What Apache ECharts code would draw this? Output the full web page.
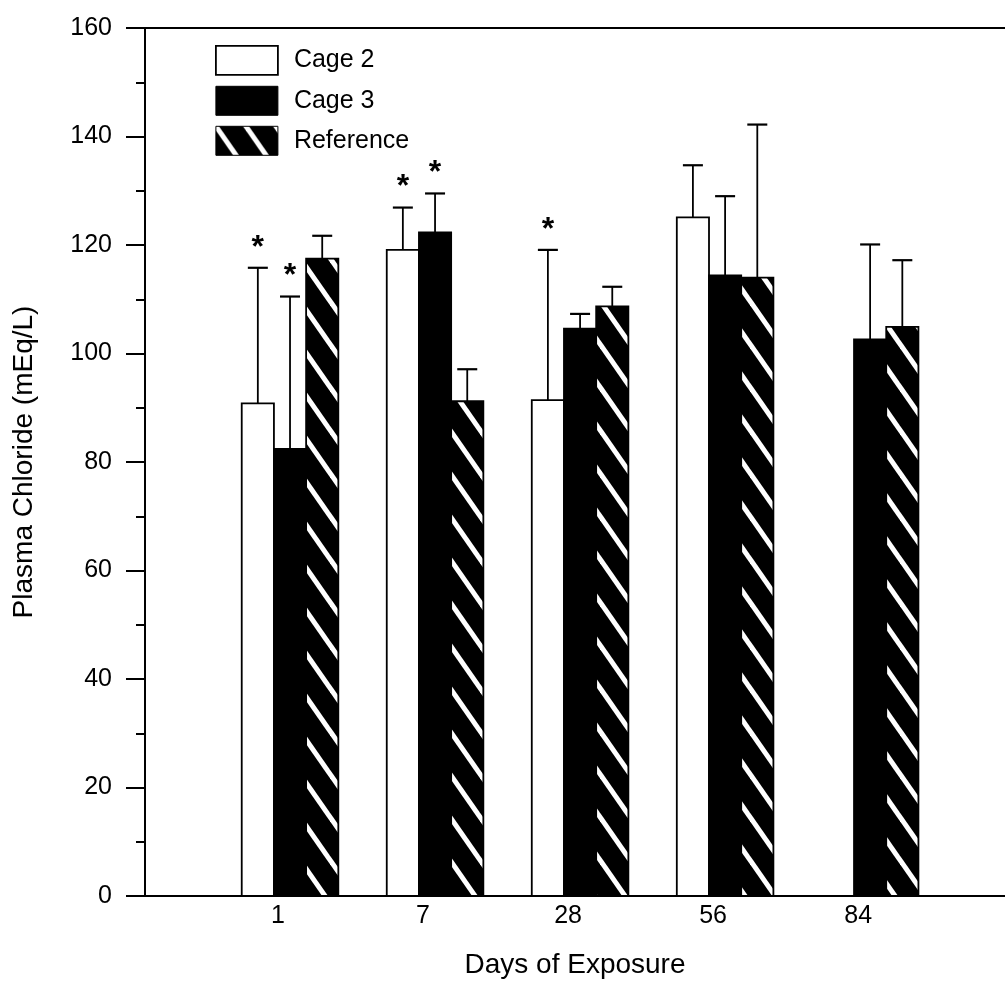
<!DOCTYPE html>
<html>
<head>
<meta charset="utf-8">
<script src="https://cdn.jsdelivr.net/npm/echarts@6/dist/echarts.min.js"></script>
<style>
  html, body { margin: 0; padding: 0; background: #fff; }
  #chart { width: 1005px; height: 986px; }
</style>
</head>
<body>
<div id="chart"></div>
<script>
// Exposure days (x categories)
const days = ['1', '7', '28', '56', '84'];
const yTicks = [0, 20, 40, 60, 80, 100, 120, 140, 160];

// Plasma chloride means and upper SE (mEq/L); null = no sample
const cage2Mean = [90.8, 119.1, 91.4, 125.1, null];
const cage2Err  = [25.0, 7.8, 27.7, 9.6, null];
const cage3Mean = [82.4, 122.3, 104.6, 114.4, 102.6];
const cage3Err  = [28.1, 7.2, 2.7, 14.6, 17.5];
const refMean   = [117.5, 91.2, 108.7, 114.0, 104.9];
const refErr    = [4.2, 5.9, 3.6, 28.2, 12.3];

// Significance markers (*) per group
const cage2Sig = [1, 1, 1, 0, 0];
const cage3Sig = [1, 1, 0, 0, 0];
const refSig   = [0, 0, 0, 0, 0];

const FONT = '"Liberation Sans", Arial, sans-serif';

// Diagonal white-on-black hatch
function makeHatch() {
  const w = 30, h = 43;
  const c = document.createElement('canvas');
  c.width = w; c.height = h;
  const g = c.getContext('2d');
  g.fillStyle = '#000';
  g.fillRect(0, 0, w, h);
  g.strokeStyle = '#fff';
  g.lineWidth = 5;
  for (let k = -1; k <= 1; k++) {
    g.beginPath();
    g.moveTo(k * w - w, -h);
    g.lineTo(k * w + 2 * w, 2 * h);
    g.stroke();
  }
  return { image: c, repeat: 'repeat' };
}
const hatch = makeHatch();

function toData(mean, err, sig) {
  const out = [];
  mean.forEach((m, i) => {
    if (m !== null) out.push([i + 1, m, err[i], sig[i]]);
  });
  return out;
}

function barRenderer(slot, fill) {
  return function (params, api) {
    const gi = api.value(0), v = api.value(1), e = api.value(2), sig = api.value(3);
    const unit = api.size([1, 0])[0];
    const bw = unit * 0.222;
    const base = api.coord([gi, 0]);
    const top = api.coord([gi, v]);
    const eTop = api.coord([gi, v + e]);
    const cx = base[0] + slot * bw;
    const x0 = cx - bw / 2;
    const cap = 10;
    const children = [
      {
        type: 'rect',
        shape: { x: x0, y: top[1], width: bw, height: base[1] - top[1] },
        style: { fill: fill, stroke: '#000', lineWidth: 1.8 }
      },
      {
        type: 'line',
        shape: { x1: cx, y1: top[1], x2: cx, y2: eTop[1] },
        style: { stroke: '#000', lineWidth: 1.8 }
      },
      {
        type: 'line',
        shape: { x1: cx - cap, y1: eTop[1], x2: cx + cap, y2: eTop[1] },
        style: { stroke: '#000', lineWidth: 2.2 }
      }
    ];
    if (sig) {
      children.push({
        type: 'text',
        style: {
          text: '*', x: cx, y: eTop[1] - 20,
          fill: '#000', font: 'bold 32px ' + FONT,
          align: 'center', verticalAlign: 'middle'
        }
      });
    }
    return { type: 'group', children: children };
  };
}

const chart = echarts.init(document.getElementById('chart'), null, { renderer: 'canvas' });

chart.setOption({
  backgroundColor: '#fff',
  animation: false,
  grid: { left: 145, right: 0, top: 28, bottom: 90, containLabel: false },
  legend: {
    orient: 'vertical',
    left: 215, top: 45, padding: 0,
    itemWidth: 62, itemHeight: 29,
    itemGap: 10,
    selectedMode: false,
    textStyle: { fontFamily: FONT, fontSize: 25, color: '#000', padding: [0, 0, 0, 11] },
    data: [
      { name: 'Cage 2', icon: 'rect', itemStyle: { color: '#fff', borderColor: '#000', borderWidth: 1.8 } },
      { name: 'Cage 3', icon: 'rect', itemStyle: { color: '#000', borderColor: '#000', borderWidth: 1 } },
      { name: 'Reference', icon: 'rect', itemStyle: { color: hatch, borderColor: '#000', borderWidth: 1 } }
    ]
  },
  xAxis: [
    {
      type: 'value', min: 0, max: 5.93, interval: 1,
      position: 'bottom',
      name: 'Days of Exposure', nameLocation: 'middle', nameGap: 55,
      nameTextStyle: { fontFamily: FONT, fontSize: 28, color: '#000' },
      axisLine: { show: true, lineStyle: { color: '#000', width: 2 } },
      axisTick: { show: false },
      splitLine: { show: false },
      axisLabel: {
        showMinLabel: false, showMaxLabel: false,
        fontFamily: FONT, fontSize: 25, color: '#000', margin: 8,
        padding: [0, 24, 0, 0],
        formatter: v => days[v - 1] || ''
      }
    },
    {
      type: 'value', min: 0, max: 5.93, position: 'top',
      axisLine: { show: true, onZero: false, lineStyle: { color: '#000', width: 2 } },
      axisTick: { show: false }, axisLabel: { show: false }, splitLine: { show: false }
    }
  ],
  yAxis: {
    type: 'value', min: yTicks[0], max: yTicks[yTicks.length - 1], interval: 20,
    name: 'Plasma Chloride (mEq/L)', nameLocation: 'middle', nameGap: 107,
    nameTextStyle: { fontFamily: FONT, fontSize: 28, color: '#000' },
    axisLine: { show: true, lineStyle: { color: '#000', width: 2 } },
    axisTick: { show: true, inside: false, length: 19, lineStyle: { color: '#000', width: 2 } },
    minorTick: { show: true, splitNumber: 2, length: 9, lineStyle: { color: '#000', width: 2 } },
    splitLine: { show: false },
    axisLabel: { fontFamily: FONT, fontSize: 25, color: '#000', margin: 33 }
  },
  series: [
    {
      name: 'Cage 2', type: 'custom', xAxisIndex: 0,
      renderItem: barRenderer(-1, '#fff'),
      itemStyle: { color: '#fff', borderColor: '#000' },
      encode: { x: 0, y: [1, 2] },
      data: toData(cage2Mean, cage2Err, cage2Sig)
    },
    {
      name: 'Cage 3', type: 'custom', xAxisIndex: 0,
      renderItem: barRenderer(0, '#000'),
      itemStyle: { color: '#000' },
      encode: { x: 0, y: [1, 2] },
      data: toData(cage3Mean, cage3Err, cage3Sig)
    },
    {
      name: 'Reference', type: 'custom', xAxisIndex: 0,
      renderItem: barRenderer(1, hatch),
      itemStyle: { color: hatch },
      encode: { x: 0, y: [1, 2] },
      data: toData(refMean, refErr, refSig)
    }
  ]
});
</script>
</body>
</html>
